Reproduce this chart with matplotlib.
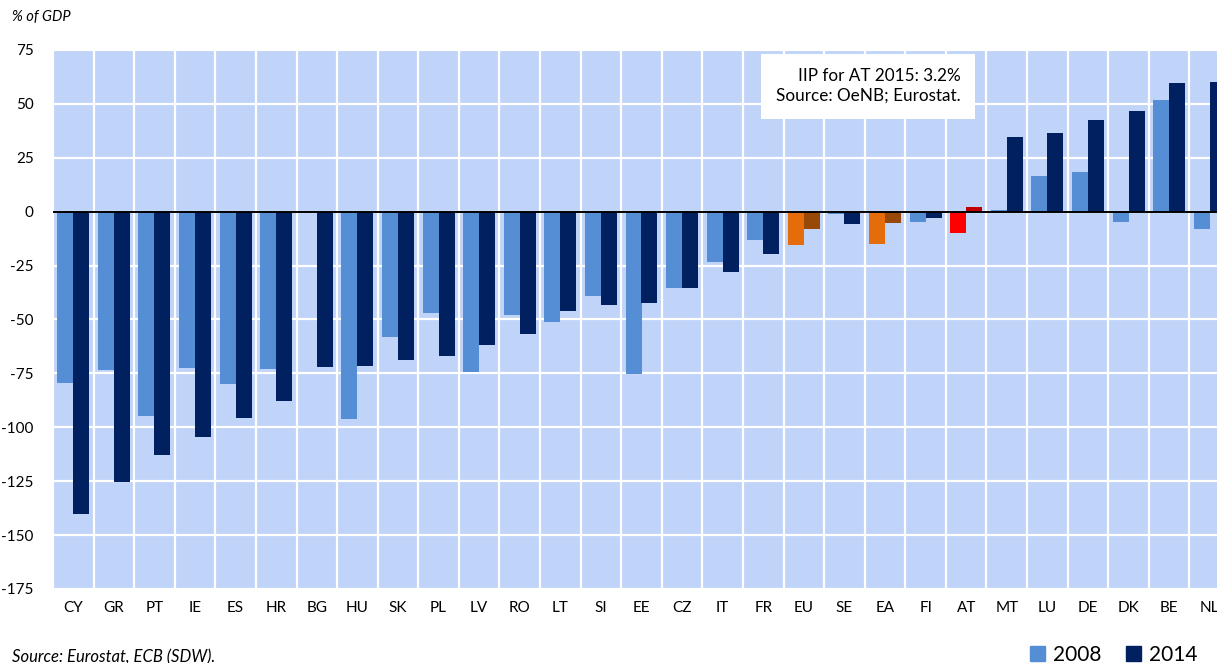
import numpy as np
import matplotlib
matplotlib.use("Agg")
import matplotlib.pyplot as plt
from matplotlib.patches import Patch

plt.rcParams['font.family'] = ['Lato', 'DejaVu Sans']

# Data (% of GDP)
countries = ['CY', 'GR', 'PT', 'IE', 'ES', 'HR', 'BG', 'HU', 'SK', 'PL',
             'LV', 'RO', 'LT', 'SI', 'EE', 'CZ', 'IT', 'FR', 'EU', 'SE',
             'EA', 'FI', 'AT', 'MT', 'LU', 'DE', 'DK', 'BE', 'NL']
iip_2008 = [-79.6, -73.6, -94.9, -72.5, -80.1, -73.1, 0.0, -96.3, -58.0, -47.1,
            -74.2, -47.9, -51.3, -39.2, -75.1, -35.2, -23.3, -13.0, -15.4, -1.0,
            -14.8, -4.8, -9.7, 0.8, 16.6, 18.3, -4.9, 52.0, -8.2]
iip_2014 = [-140.4, -125.2, -112.8, -104.5, -95.5, -87.8, -71.9, -71.4, -68.9, -66.8,
            -61.8, -56.7, -46.1, -43.4, -42.5, -35.2, -27.8, -19.5, -8.0, -5.6,
            -5.1, -2.8, 2.2, 34.8, 36.5, 42.4, 46.6, 59.6, 60.3]
y_ticks = [75, 50, 25, 0, -25, -50, -75, -100, -125, -150, -175]

# Colours
LIGHT = '#558ED5'
NAVY = '#002060'
BG = '#C0D3F8'
special_2008 = {'EU': '#E46C0A', 'EA': '#E46C0A', 'AT': '#FF0000'}
special_2014 = {'EU': '#984807', 'EA': '#984807', 'AT': '#C00000'}
col_2008 = [special_2008.get(c, LIGHT) for c in countries]
col_2014 = [special_2014.get(c, NAVY) for c in countries]

fig = plt.figure(figsize=(12.17, 6.63), dpi=100)
ax = fig.add_axes([53 / 1217, 1 - 589 / 663, 1177 / 1217, 539 / 663])
ax.set_facecolor(BG)

x = np.arange(len(countries))
w = 0.394
ax.bar(x - w / 2, iip_2008, w, color=col_2008, zorder=3)
ax.bar(x + w / 2, iip_2014, w, color=col_2014, zorder=3)
ax.axhline(0, color='black', lw=1.4, zorder=4)

ax.set_xlim(-0.5, len(countries) - 0.5)
ax.set_ylim(-175, 75)
ax.set_yticks(y_ticks)
ax.set_yticklabels([str(t) for t in y_ticks])
ax.set_xticks(x)
ax.set_xticklabels(countries)
ax.set_xticks(np.arange(len(countries) + 1) - 0.5, minor=True)
ax.tick_params(axis='both', which='both', length=0)
ax.tick_params(axis='y', pad=14, labelsize=11)
ax.tick_params(axis='x', pad=9, labelsize=11)
ax.grid(axis='y', which='major', color='white', lw=1.6, zorder=1)
ax.grid(axis='x', which='minor', color='white', lw=1.6, zorder=1)
for s in ax.spines.values():
    s.set_visible(False)

# Annotation box
ax.text(0.771, 0.933, 'IIP for AT 2015: 3.2%\nSource: OeNB; Eurostat.',
        transform=ax.transAxes, ha='right', va='center', fontsize=12.3,
        multialignment='right', linespacing=1.3, zorder=6,
        bbox=dict(boxstyle='square,pad=0.85', fc='white', ec='none'))

# Texts outside the axes
fig.text(12 / 1217, 1 - 17 / 663, '% of GDP', style='italic', fontsize=10.5, va='center')
fig.text(616 / 1217, 1 + 4 / 663, 'Net international investment position (IIP)',
         ha='right', va='baseline', fontsize=19, fontweight='bold', color='#1F4EA8')
fig.text(12 / 1217, 1 - 657 / 663, 'Source: Eurostat, ECB (SDW).', style='italic',
         fontsize=12, va='center')

handles = [Patch(color=LIGHT, label='2008'), Patch(color=NAVY, label='2014')]
fig.legend(handles=handles, loc='center', bbox_to_anchor=(1114 / 1217, 1 - 655 / 663),
           ncol=2, frameon=False, fontsize=15, handlelength=0.7, handleheight=0.7,
           handletextpad=0.4, columnspacing=1.2)

fig.savefig('out.png', dpi=100, facecolor='white')
